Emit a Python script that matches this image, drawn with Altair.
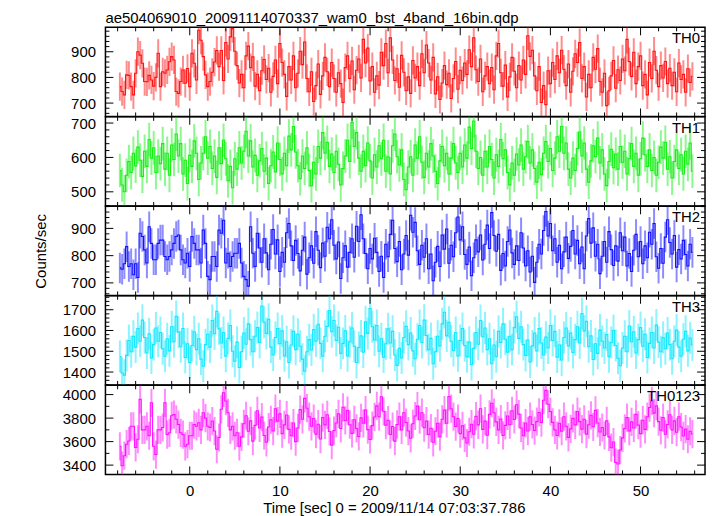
import altair as alt
import pandas as pd

TITLE = "ae504069010_20091114070337_wam0_bst_4band_16bin.qdp"
X_TITLE = "Time [sec] 0 = 2009/11/14 07:03:37.786"
Y_TITLE = "Counts/sec"
FONT = "Liberation Sans"

T_START = -7.75
BIN = 0.25

NAMES = ["TH0", "TH1", "TH2", "TH3", "TH0123"]
COLORS = ["#ff0000", "#00ee00", "#0000ff", "#00e5ff", "#ff00ff"]
ERRORS = [55, 49, 56, 77, 120]
Y_DOMAINS = [[648, 995], [459, 718], [654, 981], [1338, 1767], [3321, 4079]]
Y_MAJOR = [[700, 800, 900], [500, 600, 700], [700, 800, 900],
           [1400, 1500, 1600, 1700], [3400, 3600, 3800, 4000]]
Y_MINOR_STEP = [20, 20, 20, 20, 100]
X_DOMAIN = [-9.35, 57.15]
X_MAJOR = [0, 10, 20, 30, 40, 50]

TH0 = [764, 745, 732, 810, 808, 764, 732, 816, 900, 887, 855, 784, 783, 808, 790, 766, 800, 894, 764, 822,
       816, 829, 861, 881, 868, 745, 738, 784, 829, 777, 835, 764, 894, 855, 790, 984, 945, 881, 810, 764,
       784, 820, 860, 905,
       842, 905, 788, 936, 872, 958, 990, 902, 846, 778, 812, 760, 884, 922, 838, 880, 766, 812, 748, 826,
       870, 792, 836, 742, 804, 868, 776, 932, 858, 812, 726, 842, 790, 884, 760, 816, 902, 850, 938, 796,
       744, 822, 706, 768, 852, 734, 806, 878, 822, 764, 858, 796, 742, 818, 776, 702, 838, 884, 796, 864,
       752, 828, 872, 798, 948, 856, 914, 786, 842, 742, 806, 770, 898, 846, 932, 818, 954, 868, 788, 834,
       762, 886, 820, 748, 802, 738, 866, 798, 842, 768, 892, 818, 926, 856, 790, 878, 736, 802, 714, 778,
       846, 772, 816, 718, 796, 862, 754, 828, 788, 856, 812, 908, 842, 954, 830, 784, 872, 744, 806, 842,
       776, 838, 752, 884, 932, 818, 766, 848, 724, 802, 878, 824, 760, 846, 790, 868, 812, 962, 882, 906,
       806, 748, 842, 702, 768, 694, 826, 776, 858, 792, 884, 818, 906, 832, 768, 852, 742, 824, 892, 858,
       936, 796, 842, 724, 812, 760, 878, 832, 912, 784, 742, 816, 690, 748, 806, 866, 758, 830, 788, 872,
       826, 948, 862, 804, 898, 776, 842, 884, 768, 812, 732, 858, 796, 902, 828, 764, 846, 798, 862, 776,
       836, 768, 820, 744, 856, 792, 812, 742, 834, 780, 804]

TH1 = [562, 520, 500, 548, 588, 556, 612, 575, 630, 592, 545, 618, 574, 652, 598, 628, 556, 604, 582, 640,
       566, 612, 548, 636, 594, 668, 604, 640, 552, 592, 524, 606, 574, 648, 612, 536, 584, 612, 660, 598,
       632, 568, 604, 542, 628, 582, 650, 596, 532, 574, 512, 596, 566, 628, 584, 618, 676, 604, 648, 572,
       606, 548, 590, 626, 560, 598, 524, 576, 616, 558, 642, 594, 552, 612, 576, 662, 622, 690, 616, 576,
       538, 604, 568, 628, 562, 518, 586, 552, 632, 598, 672, 612, 644, 574, 610, 556, 618, 580, 520, 568,
       604, 650, 588, 702, 632, 672, 598, 560, 618, 576, 642, 590, 540, 608, 572, 634, 596, 650, 560, 602,
       552, 634, 668, 602, 578, 622, 536, 506, 572, 602, 548, 636, 598, 660, 586, 542, 612, 572, 640, 604,
       560, 524, 590, 632, 576, 612, 552, 598, 640, 584, 556, 612, 572, 636, 598, 688, 626, 706, 618, 568,
       600, 548, 618, 572, 632, 594, 540, 608, 574, 652, 596, 622, 556, 520, 584, 548, 610, 578, 636, 566,
       602, 646, 584, 622, 568, 528, 586, 550, 612, 646, 588, 626, 562, 598, 660, 618, 690, 612, 642, 566,
       540, 598, 562, 626, 674, 604, 642, 566, 528, 590, 634, 602, 656, 584, 622, 552, 518, 588, 624, 570,
       610, 566, 632, 586, 618, 552, 596, 640, 574, 612, 548, 596, 656, 608, 574, 622, 562, 600, 548, 586,
       630, 598, 644, 566, 602, 540, 588, 622, 568, 608, 552, 618, 580, 642, 560]

TH2 = [755, 750, 770, 833, 760, 770, 730, 770, 720, 882, 870, 821, 773, 906, 845, 785, 785, 845, 857, 857,
       797, 785, 797, 821, 845, 870, 876, 821, 785, 773, 809, 760, 870, 845, 821, 821, 773, 894, 845, 724,
       712, 797, 797, 760, 894, 882, 930, 773, 809, 760, 797, 809, 809, 845, 773, 724, 712, 688, 906, 809,
       760, 882,
       828, 776, 862, 810, 748, 842, 896, 806, 858, 742, 812, 776, 884, 918, 836, 782, 856, 808, 744, 820,
       868, 732, 792, 836, 772, 888, 820, 756, 846, 798, 904, 862, 932, 838, 788, 850, 716, 792, 836, 758,
       812, 862, 794, 908, 852, 950, 862, 808, 752, 826, 788, 864, 812, 742, 798, 720, 842, 796, 878, 930,
       826, 778, 852, 748, 806, 874, 802, 948, 886, 922, 818, 768, 838, 794, 862, 752, 806, 708, 776, 834,
       760, 876, 824, 898, 772, 838, 796, 884, 942, 858, 906, 804, 768, 832, 726, 792, 858, 814, 876, 784,
       842, 912, 826, 958, 874, 816, 878, 746, 808, 762, 852, 894, 810, 768, 836, 782, 884, 828, 762, 818,
       740, 798, 702, 776, 842, 806, 892, 962, 872, 918, 818, 862, 776, 838, 752, 814, 868, 790, 834, 892,
       806, 856, 770, 832, 752, 872, 936, 846, 902, 798, 842, 734, 798, 852, 776, 888, 822, 764, 836, 780,
       884, 818, 868, 762, 808, 742, 820, 878, 796, 852, 770,
       836, 792, 886, 842, 918, 796, 754, 826, 772, 868, 932, 848, 806, 874, 758, 822, 788, 856, 804, 762,
       842, 812]

TH3 = [1475, 1395, 1385, 1480, 1552, 1498, 1572, 1520, 1610, 1548, 1650, 1566, 1492, 1584, 1468, 1532, 1612, 1548, 1590, 1512,
       1476, 1560, 1502, 1618, 1546, 1668, 1592, 1522, 1610, 1470, 1536, 1446, 1528, 1594, 1508, 1560, 1462, 1428, 1532, 1582,
       1520, 1648, 1584, 1692, 1608, 1540, 1590, 1476, 1562, 1624, 1500, 1452, 1544, 1422, 1498, 1588, 1534, 1632, 1556, 1498,
       1572, 1614, 1542, 1718, 1640, 1586, 1654, 1520, 1482, 1566, 1610, 1536, 1598, 1478, 1546, 1446, 1530, 1596, 1508, 1582,
       1524, 1462, 1404, 1498, 1556, 1506, 1604, 1548, 1630, 1538, 1476, 1572, 1620, 1696, 1594, 1648, 1552, 1616, 1490, 1538,
       1598, 1478, 1546, 1612, 1524, 1446, 1518, 1574, 1496, 1642, 1586, 1706, 1618, 1554, 1624, 1500, 1560, 1472, 1536, 1608,
       1540, 1596, 1482, 1432, 1514, 1468, 1566, 1620, 1532, 1588, 1502, 1464, 1558, 1624, 1542, 1650, 1576, 1508, 1562, 1440,
       1498, 1572, 1526, 1632, 1688, 1574, 1640, 1548, 1504, 1590, 1478, 1552, 1610, 1528, 1474, 1544, 1436, 1514, 1590, 1534,
       1648, 1570, 1612, 1508, 1560, 1440, 1530, 1474, 1596, 1542, 1632, 1558, 1496, 1572, 1508, 1614, 1666, 1562, 1618, 1532,
       1480, 1554, 1448, 1526, 1588, 1502, 1610, 1540, 1482, 1568, 1516, 1624, 1552, 1596, 1472, 1530, 1458, 1566, 1612, 1526,
       1588, 1494, 1556, 1618, 1540, 1682, 1598, 1644, 1522, 1574, 1460, 1536, 1490, 1602, 1548, 1516, 1580, 1474, 1542, 1600,
       1528, 1466, 1430, 1516, 1572, 1498, 1622, 1546, 1594, 1492, 1556, 1614, 1524, 1582,
       1470, 1538, 1590, 1516, 1626, 1544, 1498, 1566, 1512, 1588, 1532, 1464, 1548, 1602, 1520, 1476, 1558, 1596, 1502, 1564,
       1530]

TH0123 = [3560, 3395, 3480, 3578, 3605, 3730, 3730, 3550, 3620, 3960, 3700, 3700, 3730, 3650, 3930, 3560, 3490, 3700, 3700, 3720,
          3930, 3660, 3675, 3820, 3830, 3790, 3745, 3675, 3660, 3560, 3578, 3650, 3650, 3745, 3730, 3760, 3700, 3845, 3800, 3730,
          3720, 3775, 3690, 3535, 3635, 3875, 4015, 3945, 3845, 3700, 3730, 3650, 3675, 3560,
          3640, 3752, 3820, 3688, 3776, 3604, 3738, 3862, 3716, 3808, 3652, 3594, 3724, 3786, 3690, 3880, 3774, 3836, 3668, 3742,
          3826, 3704, 3650, 3758, 3600, 3716, 3872, 3790, 3968, 3884, 3812, 3730, 3796, 3664, 3748, 3622, 3804, 3742, 3828, 3686,
          3570, 3694, 3758, 3836, 3712, 3892, 3780, 3864, 3744, 3670, 3786, 3712, 3644, 3802, 3756, 3868, 3702, 3618, 3736, 3810,
          3904, 3812, 3982, 3858, 3740, 3782, 3660, 3728, 3604, 3746, 3812, 3700, 3846, 3762, 3690, 3628, 3752, 3818, 3902, 3786,
          3846, 3718, 3774, 3660, 3714, 3594, 3688, 3756, 3642, 3790, 3868, 3756, 3984, 3880, 3812, 3728, 3796, 3668, 3734, 3632,
          3588, 3684, 3748, 3662, 3816, 3742, 3880, 3704, 3774, 3654, 3832, 3926, 3846, 3768, 3700, 3792, 3652, 3738, 3818, 3744,
          3862, 3788, 3914, 3834, 3716, 3650, 3758, 3690, 3812, 3746, 3694, 3770, 3848, 3762, 3952, 4036, 3918, 3856, 3764, 3700,
          3652, 3756, 3688, 3812, 3730, 3636, 3708, 3798, 3742, 3856, 3770, 3706, 3790, 3664, 3744, 3824, 3726, 3866, 3758, 3682,
          3720, 3652, 3776, 3640, 3548, 3596, 3422, 3410, 3528, 3632, 3712, 3804, 3690, 3768, 3716, 3832, 3740, 3668, 3782, 3704,
          3812, 3890, 3946, 3842, 3904, 3770, 3696, 3804, 3662, 3746, 3828, 3700, 3776, 3680, 3812, 3724, 3648, 3706, 3620, 3688,
          3664]

SERIES = [TH0, TH1, TH2, TH3, TH0123]

W = 603
H = 89.6
MAJ_LEN = 8
MIN_LEN = 4


def frange(a, b, step):
    out = []
    v = a
    while v <= b + 1e-9:
        out.append(round(v, 6))
        v += step
    return out


def panel(i):
    vals = SERIES[i]
    df = pd.DataFrame({
        "t": [T_START + BIN * k for k in range(len(vals))],
        "rate": vals,
    })
    df["lo"] = df["rate"] - ERRORS[i]
    df["hi"] = df["rate"] + ERRORS[i]
    color = COLORS[i]
    xs = alt.Scale(domain=X_DOMAIN, nice=False, zero=False)
    ys = alt.Scale(domain=Y_DOMAINS[i], nice=False, zero=False)
    bottom = i == len(SERIES) - 1

    if bottom:
        xaxis = alt.Axis(values=X_MAJOR, ticks=False, domain=False, grid=False,
                         labelFontSize=15, labelPadding=9, labelColor="black",
                         title=X_TITLE, titleFontSize=15, titleFontWeight="normal",
                         titlePadding=2, titleColor="black", titleX=290, format="d")
    else:
        xaxis = None
    yaxis = alt.Axis(values=Y_MAJOR[i], ticks=False, domain=False, grid=False,
                     labelFontSize=15, labelPadding=10, labelColor="black",
                     title=Y_TITLE if i == 2 else "", titleFontSize=15,
                     titleFontWeight="normal", titlePadding=22, titleColor="black",
                     format="d")

    def X(field):
        return alt.X(field, type="quantitative", scale=xs, axis=xaxis)

    def Y(field):
        return alt.Y(field, type="quantitative", scale=ys, axis=yaxis)

    base = alt.Chart(df)
    err = base.mark_rule(color=color, strokeWidth=2, opacity=0.45, clip=True).encode(
        x=X("t"), y=Y("lo"), y2="hi:Q",
    )
    line = base.mark_line(color=color, strokeWidth=1.1, opacity=0.9, interpolate="step",
                          clip=True).encode(
        x=X("t"), y=Y("rate"),
    )

    x_minor = [v for v in frange(-8, 56, 2) if v not in X_MAJOR]
    y_lo, y_hi = Y_DOMAINS[i]
    step = Y_MINOR_STEP[i]
    start = (int(y_lo // step) + 1) * step
    y_minor = [v for v in frange(start, y_hi, step) if v not in Y_MAJOR[i]]

    layers = [err, line]
    for vals_t, L in ((X_MAJOR, MAJ_LEN), (x_minor, MIN_LEN)):
        tdf = pd.DataFrame({"t": vals_t})
        layers.append(alt.Chart(tdf).mark_rule(color="black", strokeWidth=1).encode(
            x=X("t"), y=alt.value(0), y2=alt.value(L)))
        layers.append(alt.Chart(tdf).mark_rule(color="black", strokeWidth=1).encode(
            x=X("t"), y=alt.value(H), y2=alt.value(H - L)))
    for vals_t, L in ((Y_MAJOR[i], MAJ_LEN), (y_minor, MIN_LEN)):
        tdf = pd.DataFrame({"rate": vals_t})
        layers.append(alt.Chart(tdf).mark_rule(color="black", strokeWidth=1).encode(
            y=Y("rate"), x=alt.value(0), x2=alt.value(L)))
        layers.append(alt.Chart(tdf).mark_rule(color="black", strokeWidth=1).encode(
            y=Y("rate"), x=alt.value(W), x2=alt.value(W - L)))

    lab = alt.Chart(pd.DataFrame({"name": [NAMES[i]]})).mark_text(
        align="right", baseline="top", fontSize=15, font=FONT, color="black"
    ).encode(text="name:N", x=alt.value(W - 5), y=alt.value(4))
    layers.append(lab)

    ch = alt.layer(*layers).properties(width=W, height=H)
    if i == 0:
        ch = ch.properties(title=alt.TitleParams(
            TITLE, anchor="start", frame="group", fontSize=15, fontWeight="normal",
            font=FONT, color="black", offset=1))
    return ch


chart = alt.vconcat(*[panel(i) for i in range(len(SERIES))], spacing=0, bounds="flush").properties(
    padding={"left": 25, "top": 0, "right": 2, "bottom": 2}
).configure_view(
    stroke="black", strokeWidth=1.5
).configure_axis(
    labelFont=FONT, titleFont=FONT
).configure_concat(spacing=0)

chart.save("out.html", embed_options={"renderer": "svg", "actions": False})
